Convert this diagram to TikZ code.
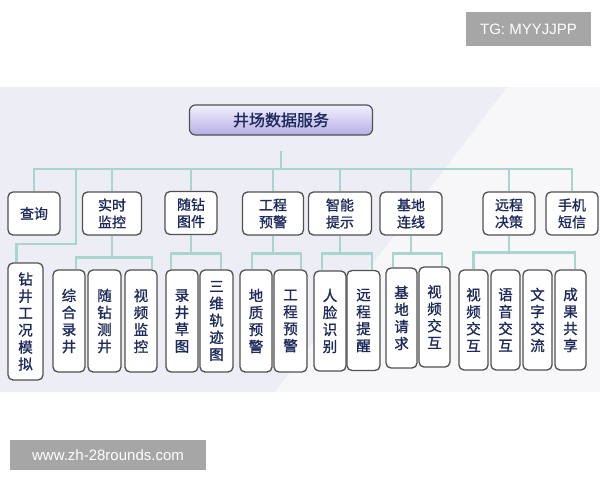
\documentclass[tikz,border=0pt]{standalone}
\usepackage{fontspec}
\newfontfamily\cjk[FakeBold=1.2]{Noto Sans CJK SC}
\newfontfamily\wmfont{Liberation Sans}
\definecolor{lineC}{HTML}{A8D5CF}
\definecolor{boxB}{HTML}{505050}
\definecolor{txtC}{HTML}{1C2A5C}
\definecolor{bandL}{HTML}{EDEDF5}
\definecolor{bandR}{HTML}{F7F7F9}
\definecolor{topA}{HTML}{F2F0FC}
\definecolor{topB}{HTML}{B6AEE6}
\definecolor{wmC}{HTML}{A6A6A6}
\begin{document}
\begin{tikzpicture}[x=1pt,y=-1pt,
  conn/.style={draw=lineC, line width=2.8pt},
  box/.style={draw=boxB, line width=1.3pt, rounded corners=5pt, fill=white, text=txtC, inner sep=0pt, align=center},
  lone/.style={box, font=\cjk\fontsize{14}{17}\selectfont, minimum height=43pt},
  ltwo/.style={box, font=\cjk\fontsize{14.5}{17}\selectfont, minimum height=102pt},
  wm/.style={fill=wmC, text=white, font=\wmfont\fontsize{15}{18}\selectfont, inner sep=0pt}
]
\useasboundingbox (0,0) rectangle (600,480);
\fill[white] (0,0) rectangle (600,480);
% background band
\fill[bandR] (0,87) rectangle (600,392);
\fill[bandL] (0,87) -- (507,87) -- (275,392) -- (0,392) -- cycle;

% top node
\node[draw=boxB, line width=1.2pt, rounded corners=6pt, top color=topA, bottom color=topB,
      minimum width=183pt, minimum height=30pt, inner sep=0pt, text=txtC,
      font=\cjk\fontsize{16}{18}\selectfont] (top) at (281,120) {井场数据服务\hspace{33pt}};

% level 1
\node[lone, minimum width=52pt] (q)  at (34,213.5)  {查询};
\node[lone, minimum width=59pt] (ss) at (112,213.5) {实时\\监控};
\node[lone, minimum width=52pt] (sz) at (191,213) {随钻\\图件};
\node[lone, minimum width=61pt] (gc) at (273,213.5) {工程\\预警};
\node[lone, minimum width=63pt] (zn) at (340,213.5) {智能\\提示};
\node[lone, minimum width=62pt] (jd) at (411,213.5) {基地\\连线};
\node[lone, minimum width=52pt] (yc) at (509,213.5) {远程\\决策};
\node[lone, minimum width=52pt] (sj) at (572,213.5) {手机\\短信};

% level 2
\node[ltwo, minimum width=35pt, minimum height=117pt] (zj) at (25.5,321.5) {钻\\井\\工\\况\\模\\拟};
\node[ltwo, minimum width=32pt] (zh) at (69,321)    {综\\合\\录\\井};
\node[ltwo, minimum width=33pt] (sc) at (104.5,321) {随\\钻\\测\\井};
\node[ltwo, minimum width=32pt] (sp) at (141,321)   {视\\频\\监\\控};
\node[ltwo, minimum width=32pt] (lj) at (182,321)   {录\\井\\草\\图};
\node[ltwo, minimum width=33pt] (sw) at (216.5,321) {三\\维\\轨\\迹\\图};
\node[ltwo, minimum width=32pt] (dz) at (256,321)   {地\\质\\预\\警};
\node[ltwo, minimum width=33pt] (gy) at (290.5,321) {工\\程\\预\\警};
\node[ltwo, minimum width=32pt, minimum height=100pt] (rl) at (330,321)   {人\\脸\\识\\别};
\node[ltwo, minimum width=33pt, minimum height=100pt] (yt) at (363.5,320.5) {远\\程\\提\\醒};
\node[ltwo, minimum width=31pt, minimum height=100pt] (jq) at (401.5,318) {基\\地\\请\\求};
\node[ltwo, minimum width=31pt, minimum height=100pt] (jv) at (434.5,317) {视\\频\\交\\互};
\node[ltwo, minimum width=29pt, minimum height=100pt] (v1) at (473.5,320) {视\\频\\交\\互};
\node[ltwo, minimum width=29pt, minimum height=100pt] (v2) at (505.5,320) {语\\音\\交\\互};
\node[ltwo, minimum width=29pt, minimum height=100pt] (v3) at (537.5,320) {文\\字\\交\\流};
\node[ltwo, minimum width=31pt, minimum height=100pt] (v4) at (570.5,320) {成\\果\\共\\享};

% connectors
\coordinate (bus) at (281,169);
\draw[conn] ([yshift=-15pt]top.south) -- (top.south |- bus);
\draw[conn] (q.north) -- (q.north |- bus) -- (sj.north |- bus) -- (sj.north);
\foreach \n in {ss,sz,gc,zn,jd,yc} { \draw[conn] (\n.north |- bus) -- (\n.north); }
\coordinate (zb) at (76,244);
\draw[conn] (zb |- bus) -- (zb) -| ([xshift=-9pt]zj.north);

\path (ss.south) ++(0,22) coordinate (ssb);
\draw[conn] (ss.south) -- (ssb);
\draw[conn] ([xshift=7pt]zh.north) |- (ssb) -| ([xshift=11pt]sp.north);

\path (sz.south) ++(0,18) coordinate (szb);
\draw[conn] (sz.south) -- (szb);
\draw[conn] ([xshift=-11pt]lj.north) |- (szb) -| ([xshift=4.5pt]sw.north);

\path (gc.south) ++(0,18) coordinate (gcb);
\draw[conn] (gc.south) -- (gcb);
\draw[conn] ([xshift=-4pt]dz.north) |- (gcb) -| ([xshift=10.5pt]gy.north);

\path (zn.south) ++(0,18) coordinate (znb);
\draw[conn] (zn.south) -- (znb);
\draw[conn] ([xshift=-8pt]rl.north) |- (znb) -| ([xshift=8.5pt]yt.north);

\path (jd.south) ++(0,18) coordinate (jdb);
\draw[conn] (jd.south) -- (jdb);
\draw[conn] ([xshift=-8.5pt]jq.north) |- (jdb) -| ([xshift=7.5pt]jv.north);

\path (yc.south) ++(0,17) coordinate (ycb);
\draw[conn] (yc.south) -- (ycb);
\draw[conn] (v1.north) |- (ycb) -| ([xshift=4.5pt]v4.north);

% watermarks
\node[wm, minimum width=125pt, minimum height=34pt] (tg) at (528.5,29) {TG: MYYJJPP};
\node[wm, minimum width=196pt, minimum height=30pt] (url) at (108,455) {www.zh-28rounds.com};
\end{tikzpicture}
\end{document}
